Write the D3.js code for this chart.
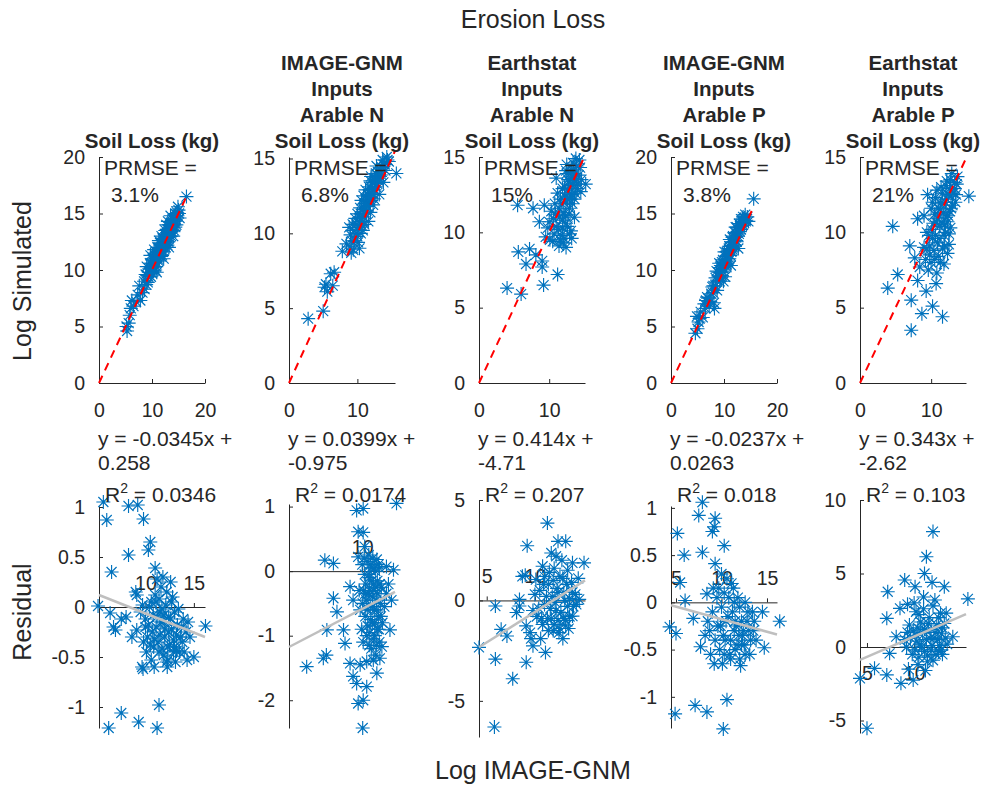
<!DOCTYPE html>
<html>
<head>
<meta charset="utf-8">
<script src="https://cdn.jsdelivr.net/npm/d3@7"></script>
<style>
  body { margin: 0; background: #fff; }
  text { font-family: "Liberation Sans", Arial, sans-serif; fill: #262626; }
</style>
</head>
<body>
<svg id="chart" width="985" height="785"></svg>
<script>
// ---- data ----
const panelTitles = [
    ["Soil Loss (kg)"],
    ["IMAGE-GNM", "Inputs", "Arable N", "Soil Loss (kg)"],
    ["Earthstat", "Inputs", "Arable N", "Soil Loss (kg)"],
    ["IMAGE-GNM", "Inputs", "Arable P", "Soil Loss (kg)"],
    ["Earthstat", "Inputs", "Arable P", "Soil Loss (kg)"]
];
const prmse = ["3.1%", "6.8%", "15%", "3.8%", "21%"];
const fitSlope = ["-0.0345", "0.0399", "0.414", "-0.0237", "0.343"];
const fitIntercept = ["0.258", "-0.975", "-4.71", "0.0263", "-2.62"];
const rSquared = ["0.0346", "0.0174", "0.207", "0.018", "0.103"];

const topXMax = [20, 15.5, 15.1, 20, 14.9];
const topYMax = [20, 15.1, 15, 20, 15];
const topXTicks = [[0, 10, 20], [0, 10], [0, 10], [0, 10, 20], [0, 10]];
const topYTicks = [[0, 5, 10, 15, 20], [0, 5, 10, 15], [0, 5, 10, 15], [0, 5, 10, 15, 20], [0, 5, 10, 15]];
const oneToOneMax = [16.5, 15.5, 14.9, 15.7, 14.9];

const resXDomain = [[5.2, 16.15], [-4.5, 16.5], [4.2, 15.2], [4.45, 16.1], [4.26, 15.5]];
const resYDomain = [[-1.21, 1.01], [-2.43, 1.04], [-6.8, 5], [-1.33, 1.02], [-5.85, 10]];
const resXTicks = [[10, 15], [10], [5, 10], [5, 10, 15], [5, 10]];
const resYTicks = [[-1, -0.5, 0, 0.5, 1], [-2, -1, 0, 1], [-5, 0, 5], [-1, -0.5, 0, 0.5, 1], [-5, 0, 5, 10]];
const resFitEnds = [
    [[5.2, 0.12], [16.15, -0.30]],
    [[-4.5, -1.175], [16.5, -0.32]],
    [[4.2, -2.33], [15.2, 1.0]],
    [[4.45, -0.03], [16.1, -0.34]],
    [[4.26, -0.88], [15.5, 2.24]]
];

const sim1 = [[5.3,4.6],[5.2,5.0],[5.6,5.3],[5.8,6.0],[6.0,6.6],[6.2,7.3],[6.5,6.8],[7.0,7.2],[7.3,7.8],[7.6,8.6],[7.8,7.3],[8.2,8.0],[8.5,9.0],[8.6,8.3],[8.8,9.6],[9.0,10.3],[9.2,8.9],[9.4,9.8],[9.6,10.6],[9.8,9.4],[10.0,10.2],[10.1,11.0],[10.3,9.9],[10.5,10.7],[10.6,11.5],[10.8,10.3],[11.0,11.2],[11.0,12.0],[11.2,10.8],[11.4,11.6],[11.5,12.4],[11.7,11.2],[11.9,12.0],[12.0,12.8],[12.1,11.6],[12.3,12.4],[12.4,13.2],[12.6,12.0],[12.8,12.8],[12.9,13.6],[13.1,12.5],[13.3,13.3],[13.4,14.0],[13.6,13.0],[13.8,13.8],[13.9,14.5],[14.1,13.5],[14.3,14.3],[14.4,15.0],[14.6,14.0],[14.8,14.8],[15.0,15.3],[15.2,14.6],[14.9,15.6],[16.5,16.5],[10.4,11.8],[11.8,13.0],[12.7,14.0],[13.5,14.8],[9.7,11.3],[10.9,9.8],[12.2,11.0],[13.2,12.0],[14.0,13.0],[11.3,12.6],[12.5,13.5],[13.0,14.3],[10.7,11.0],[11.6,11.9],[12.9,12.2],
    [9.3,9.4],[9.5,10.1],[9.9,10.6],[10.2,10.5],[10.4,10.2],[10.7,11.3],[10.9,11.6],[11.1,11.0],[11.3,11.9],[11.5,11.4],[11.7,12.3],[11.8,11.7],[12.0,12.3],[12.2,12.8],[12.4,12.2],[12.5,12.9],[12.7,13.1],[12.8,12.4],[13.0,13.0],[13.1,13.6],[13.3,12.9],[13.5,13.6],[13.6,14.2],[13.7,13.4],[13.9,13.9],[14.1,14.5],[14.2,14.0],[14.5,14.5],[14.7,15.1],[15.1,15.0],[10.6,10.0],[11.9,11.3],[13.4,13.6],[14.4,13.8],[8.9,8.7],[9.1,9.5],[10.0,9.7],[11.2,11.5],[12.6,12.6],[13.8,14.3]];
const sim2 = [[2.8,4.3],[5.0,4.8],[5.2,6.4],[5.6,6.1],[5.4,6.6],[6.1,7.3],[6.6,7.4],[6.4,6.5],[7.8,8.8],[8.4,9.3],[8.9,9.1],[9.4,8.9],[9.6,9.5],[10.1,9.4],[9.9,10.0],[9.0,9.9],[8.8,10.4],[9.3,10.6],[9.7,11.0],[10.2,10.4],[10.5,10.0],[10.0,11.3],[10.4,11.7],[10.8,11.1],[11.0,10.6],[10.6,12.2],[11.1,12.0],[11.3,11.5],[11.5,12.6],[11.8,12.1],[11.2,12.9],[11.7,13.1],[12.0,12.7],[12.2,13.4],[12.5,12.9],[12.0,13.8],[12.6,13.7],[12.9,13.3],[13.0,14.1],[13.3,13.8],[12.8,14.5],[13.5,14.4],[13.7,14.9],[14.0,14.6],[14.3,15.1],[14.6,14.8],[15.7,14.0],[10.3,9.0],[11.6,10.8],[12.3,11.9],[13.8,13.4],[9.1,8.7],[10.9,12.5],[11.9,13.5],[10.7,10.8],[12.4,12.3],[13.2,12.6],[11.4,12.3],[12.7,14.0],
    [9.2,9.5],[9.5,10.2],[9.8,10.6],[10.0,9.8],[10.3,10.8],[10.5,11.3],[10.7,10.5],[10.9,11.6],[11.1,11.3],[11.3,12.1],[11.5,11.8],[11.7,12.5],[11.9,12.2],[12.1,13.0],[12.3,12.6],[12.5,13.4],[12.7,13.1],[12.9,13.9],[13.1,13.5],[13.3,14.3],[13.5,13.9],[13.8,14.6],[14.1,14.2],[14.4,14.9],[10.4,11.0],[11.2,11.9],[12.0,12.4],[12.8,13.6],[13.6,14.4],[10.8,10.2],[11.9,11.4]];
const sim3 = [[4.0,6.3],[6.0,5.9],[9.2,6.5],[11.2,7.2],[5.6,8.7],[6.7,7.9],[7.2,8.9],[8.1,8.5],[9.0,8.1],[9.0,7.7],[5.5,11.8],[7.7,11.6],[9.3,11.8],[10.0,10.7],[9.5,9.7],[10.5,9.4],[11.4,9.1],[12.4,9.0],[13.1,10.1],[13.2,9.6],[11.4,11.6],[12.4,12.0],[11.9,12.9],[12.8,13.4],[13.5,14.2],[13.8,14.9],[15.2,13.2],[14.5,12.7],[11.0,13.6],[12.4,14.1],[13.2,12.5],[11.9,10.8],[11.0,10.4],[10.3,11.4],[8.6,10.7],[12.9,11.6],[13.6,12.2],[14.2,13.8],[12.6,10.4],[11.7,9.8],[12.0,11.3],[12.7,12.8],[13.3,13.1],[13.0,13.9],[13.9,13.5],[12.2,12.4],[11.6,12.2],[10.8,11.9],[10.6,10.9],[11.3,10.2],[12.1,9.6],[13.6,11.0],[14.0,12.9],[13.4,14.6],[12.5,13.9],[14.4,14.3],[10.1,9.5],[9.8,10.3],
    [11.8,11.9],[12.3,11.1],[12.6,12.2],[12.9,12.6],[13.1,13.2],[13.4,13.6],[13.7,13.9],[13.9,14.4],[13.2,14.0],[12.7,13.5],[12.2,13.0],[11.5,11.0],[11.9,10.3],[12.4,10.6],[12.8,11.2],[13.3,11.9],[13.7,12.6],[14.1,13.2],[11.2,12.6],[10.9,11.2],[12.0,9.3],[12.9,9.9],[11.6,9.5],[10.7,9.9],[13.5,13.3],[14.3,14.8],[14.6,13.5],[12.5,14.5],[13.0,12.2]];
const sim4 = [[4.6,4.4],[4.9,5.9],[5.2,5.4],[5.0,4.8],[5.6,6.3],[6.0,5.8],[6.3,7.0],[6.8,7.6],[7.2,6.8],[7.6,7.9],[8.1,7.1],[8.2,6.6],[8.0,8.6],[8.4,9.3],[8.7,8.2],[8.9,9.8],[9.2,9.0],[9.4,10.4],[9.6,9.5],[9.8,10.9],[10.0,10.1],[10.2,9.4],[10.3,11.2],[10.5,10.5],[10.7,11.7],[10.9,10.8],[11.0,12.1],[11.2,11.3],[11.4,12.5],[11.6,11.8],[11.7,13.0],[11.9,12.2],[12.1,13.3],[12.3,12.6],[12.4,13.8],[12.6,13.0],[12.8,14.1],[13.0,13.4],[13.2,14.5],[13.4,13.9],[13.6,14.7],[13.8,14.2],[14.0,14.9],[14.2,14.4],[14.4,14.7],[14.6,14.3],[15.6,16.3],[9.1,10.6],[10.1,11.6],[11.1,12.7],[12.2,13.8],[9.9,9.0],[11.3,10.4],[12.7,11.9],[8.6,9.9],[7.8,8.5],[7.4,7.2],[6.6,7.3],
    [9.0,9.4],[9.3,9.8],[9.5,10.2],[9.7,9.9],[10.0,10.6],[10.2,10.9],[10.4,10.3],[10.6,11.0],[10.8,11.4],[11.0,11.0],[11.2,11.8],[11.4,11.6],[11.5,12.1],[11.8,12.5],[12.0,12.1],[12.2,12.9],[12.4,12.5],[12.6,13.4],[12.8,13.2],[13.0,13.9],[13.2,13.6],[13.4,14.3],[13.6,14.0],[13.9,14.6],[14.1,14.3],[8.4,8.6],[8.7,9.1],[7.9,8.0],[7.0,7.5],[6.5,6.6],[5.4,5.7],[10.9,11.9],[12.3,13.3],[13.5,14.5],[9.6,10.7],[11.6,12.9],[10.5,11.6]];
const sim5 = [[4.6,10.4],[3.9,6.3],[5.3,7.2],[7.0,9.1],[7.2,5.5],[7.2,3.5],[8.7,4.6],[10.2,5.1],[11.6,4.4],[15.3,12.4],[9.3,6.1],[10.7,6.6],[8.1,6.8],[8.4,7.7],[7.7,8.3],[12.5,9.2],[11.8,7.9],[9.5,12.5],[13.7,13.7],[8.1,10.9],[10.7,10.7],[9.0,9.0],[9.4,10.0],[9.8,8.5],[10.2,9.6],[10.5,11.2],[10.9,9.3],[11.2,10.4],[11.5,12.0],[11.8,9.8],[12.1,11.0],[12.4,12.5],[12.7,10.3],[13.0,11.8],[13.3,12.9],[13.6,13.2],[10.0,11.6],[10.6,12.3],[11.4,13.0],[12.2,13.4],[12.9,13.9],[9.2,8.2],[10.4,8.8],[11.0,8.4],[11.6,8.9],[12.3,8.6],[9.6,7.5],[10.8,7.3],[11.3,11.5],[12.0,12.0],[12.8,12.4],[13.4,12.0],[10.1,10.2],[9.0,11.1],[11.9,10.5],[12.6,11.4],
    [9.8,9.1],[10.3,10.6],[10.6,9.8],[10.9,10.9],[11.1,9.6],[11.3,11.9],[11.5,10.6],[11.7,11.3],[12.0,10.0],[12.2,12.2],[12.4,11.1],[12.6,12.9],[12.8,11.6],[13.1,12.6],[13.3,13.3],[13.5,12.5],[10.2,12.0],[10.8,12.8],[11.6,12.6],[12.1,13.1],[12.7,13.5],[9.7,9.8],[10.5,8.2],[11.3,8.0],[11.9,9.1],[12.5,9.9],[9.4,8.9],[10.0,8.0],[11.0,11.6],[12.3,10.7]];

const res1 = [[5.65,1.05],[6.0,0.87],[8.25,1.01],[9.2,1.02],[9.8,0.88],[10.5,0.65],[10.3,0.57],[8.25,0.52],[6.5,0.35],[11.0,0.39],[11.2,0.28],[9.0,0.15],[9.1,0.12],[5.1,0.01],[6.35,-0.06],[6.7,-0.2],[6.9,-0.23],[7.5,-0.12],[9.1,-0.23],[9.65,-0.6],[9.75,-0.62],[12.25,-0.6],[15.0,-0.5],[16.2,-0.19],[14.4,-0.15],[6.2,-1.21],[7.5,-1.06],[9.3,-1.15],[11.2,-1.21],[11.4,-0.98],[10.85,-0.4],[10.6,-0.53],[12.3,-0.53],[13.2,-0.44],[14.3,-0.53],[9.5,-0.05],[10.0,-0.12],[10.4,0.0],[10.8,-0.08],[11.1,-0.2],[11.5,-0.05],[11.8,-0.15],[12.1,0.02],[12.4,-0.1],[12.7,-0.22],[13.0,-0.05],[13.3,-0.18],[13.6,-0.3],[13.9,-0.12],[14.2,-0.25],[10.2,-0.3],[10.7,-0.25],[11.3,-0.35],[11.7,-0.42],[12.0,-0.3],[12.5,-0.38],[12.9,-0.33],[13.5,-0.45],[11.0,0.12],[11.6,0.2],[12.2,0.15],[12.8,0.1],[11.4,0.08],[9.8,-0.35],[10.1,-0.45],[11.9,-0.48],[13.8,-0.35],[14.6,-0.3],[12.6,0.25],[11.8,0.3],[8.6,-0.3],[8.0,-0.1],[10.9,-0.6],[13.1,-0.55],
    [10.3,-0.18],[10.6,0.05],[10.9,-0.32],[11.2,-0.1],[11.5,-0.28],[11.7,-0.02],[12.0,-0.22],[12.3,-0.4],[12.6,-0.12],[12.9,-0.45],[13.2,-0.28],[13.4,-0.02],[13.7,-0.2],[14.0,-0.45],[11.1,0.05],[11.9,-0.08],[12.7,0.05],[10.5,-0.38],[11.4,-0.45],[12.2,-0.55],[13.0,-0.4],[11.6,-0.15],[12.4,-0.25],[10.0,-0.2],[9.7,0.02]];
const res2 = [[16.8,1.05],[8.9,0.94],[10.2,0.97],[9.2,0.61],[10.2,0.6],[10.5,0.38],[9.2,0.22],[2.6,0.17],[4.3,0.12],[-1.0,-1.48],[2.3,-1.35],[2.9,-1.3],[3.0,-0.91],[4.3,-0.42],[5.0,-0.63],[6.3,-0.91],[6.6,-1.12],[7.6,-0.24],[8.2,-0.45],[7.6,-1.43],[8.2,-1.63],[8.9,-1.74],[9.6,-1.45],[10.9,-1.79],[9.2,-2.05],[10.2,-2.0],[10.1,-2.43],[12.2,-1.38],[12.9,-1.58],[13.9,-1.17],[15.5,-0.91],[15.8,-0.45],[16.2,0.02],[14.8,0.07],[10.0,0.1],[10.5,-0.05],[11.0,0.15],[11.4,-0.1],[11.8,0.05],[12.2,-0.2],[12.6,0.0],[13.0,-0.15],[13.4,0.05],[13.8,-0.25],[10.3,-0.3],[10.8,-0.45],[11.2,-0.35],[11.6,-0.55],[12.0,-0.4],[12.4,-0.6],[12.8,-0.45],[13.2,-0.7],[13.6,-0.5],[14.0,-0.8],[14.4,-0.55],[10.6,-0.7],[11.1,-0.85],[11.5,-0.95],[12.0,-0.8],[12.5,-1.0],[13.0,-0.9],[13.4,-1.1],[11.8,-1.2],[12.7,-1.3],[9.6,-0.6],[9.9,-0.9],[10.2,-1.1],[14.8,-0.35],[15.2,-0.2],[11.3,0.25],[12.1,0.2],[12.9,0.18],[9.4,-0.3],[10.9,-1.4],[13.5,-1.35],
    [10.4,0.2],[10.7,-0.2],[11.0,-0.6],[11.3,-0.05],[11.5,-0.3],[11.7,-0.75],[11.9,-0.15],[12.1,-0.55],[12.3,-0.3],[12.5,-0.8],[12.7,-0.25],[12.9,-0.6],[13.1,-0.35],[13.3,-0.9],[13.5,-0.2],[13.7,-0.7],[10.1,-0.5],[10.9,-1.0],[11.4,-1.15],[12.2,-1.05],[12.8,-1.15],[11.6,0.1],[12.4,0.05],[13.2,0.1],[10.6,-0.35]];
const res3 = [[11.3,3.85],[9.2,2.72],[12.4,2.94],[13.2,2.94],[11.7,2.36],[15.1,1.87],[13.9,1.87],[8.7,1.2],[9.0,1.25],[10.1,1.04],[10.8,1.7],[5.9,-0.28],[4.2,-2.34],[6.5,-1.44],[7.1,-1.77],[5.9,-2.92],[7.7,-3.9],[9.1,-3.08],[9.8,-2.26],[11.1,-2.59],[5.8,-6.3],[8.4,-0.28],[8.1,-0.6],[9.1,-1.27],[9.5,-1.6],[8.4,0.05],[12.5,-1.6],[13.2,-1.27],[13.9,-0.78],[14.6,0.05],[10.5,0.5],[11.0,-0.2],[11.4,0.8],[11.8,0.2],[12.2,-0.5],[12.6,1.2],[13.0,0.4],[13.4,-0.3],[13.8,0.9],[14.2,0.3],[10.2,-0.8],[10.8,-1.2],[11.3,-0.9],[11.9,-1.5],[12.4,-1.0],[12.9,-1.9],[13.5,-1.4],[12.0,1.6],[11.5,1.4],[12.8,2.0],[10.0,0.3],[9.8,-0.5],[14.5,1.1],[13.6,0.1],[11.6,-0.4],[12.3,0.6],[10.6,-1.9],[9.6,-1.9],[14.0,-0.3],[13.0,-0.9],
    [10.4,-0.4],[10.9,0.8],[11.2,0.2],[11.7,-0.9],[11.9,1.0],[12.1,-0.1],[12.4,0.4],[12.7,-0.6],[12.9,1.1],[13.1,0.0],[13.3,0.8],[13.6,-0.8],[13.9,0.4],[14.3,-0.2],[11.0,1.2],[12.0,-1.2],[12.6,-1.4],[13.2,-1.0],[11.4,-1.5],[12.2,2.2],[13.4,1.5],[10.7,-0.9]];
const res4 = [[7.9,1.06],[7.5,0.92],[9.3,0.89],[9.2,0.8],[9.0,0.75],[5.15,0.73],[5.9,0.5],[7.9,0.53],[10.3,0.6],[9.3,0.41],[5.45,0.21],[6.0,0.02],[8.4,0.09],[4.3,-0.26],[5.0,-0.33],[6.9,-0.17],[7.7,-0.47],[9.2,-0.65],[12.1,-0.67],[14.5,-0.1],[16.4,-0.2],[14.7,-0.48],[4.9,-1.18],[7.1,-1.09],[8.4,-1.16],[10.6,-1.03],[10.2,-1.34],[8.5,-0.2],[9.0,-0.1],[9.5,0.05],[9.9,-0.25],[10.3,0.1],[10.7,-0.15],[11.1,0.2],[11.4,-0.3],[11.8,0.05],[12.2,-0.2],[12.6,0.0],[13.0,-0.3],[13.4,-0.1],[13.8,-0.4],[9.3,-0.4],[9.8,-0.5],[10.4,-0.4],[10.9,-0.55],[11.5,-0.5],[12.0,-0.6],[12.5,-0.45],[13.1,-0.55],[10.0,0.3],[10.6,0.25],[11.3,0.15],[8.8,-0.55],[11.6,-0.25],[12.8,-0.2],[10.1,-0.65],[11.9,-0.35],[8.2,-0.35],[13.5,-0.3],
    [8.7,-0.3],[9.1,0.15],[9.6,-0.25],[10.0,-0.05],[10.2,-0.35],[10.5,-0.2],[10.8,0.05],[11.0,-0.4],[11.2,-0.1],[11.5,-0.2],[11.7,-0.45],[12.0,-0.05],[12.3,-0.35],[12.6,-0.55],[12.9,-0.1],[13.2,-0.4],[13.6,-0.2],[10.3,-0.55],[11.4,0.0],[12.4,-0.3],[9.7,0.15],[11.0,-0.6],[12.2,-0.45]];
const res5 = [[12.0,7.85],[11.3,6.14],[11.1,5.0],[9.0,4.56],[10.1,4.1],[11.9,4.4],[13.2,4.1],[7.2,3.76],[15.7,3.27],[7.1,1.95],[8.5,2.63],[9.3,2.9],[8.1,0.7],[7.4,-0.43],[4.26,-2.13],[5.8,-1.45],[7.1,-1.9],[8.6,-2.47],[9.9,-2.25],[5.0,-5.53],[14.1,0.7],[13.4,2.3],[9.0,0.5],[9.5,1.5],[9.8,-0.5],[10.2,0.8],[10.5,2.2],[10.8,0.0],[11.1,1.2],[11.4,-0.6],[11.7,0.6],[12.0,2.8],[12.3,1.0],[12.6,-0.3],[12.9,0.9],[13.2,1.6],[13.5,0.2],[10.0,3.0],[11.0,3.4],[12.2,3.2],[10.4,-1.2],[11.2,-1.6],[12.0,-0.9],[9.4,-1.5],[10.7,1.7],[11.6,2.0],[12.8,2.3],[13.0,-0.5],[9.2,0.0],[11.9,0.1],[10.3,0.4],[12.5,0.5],
    [9.6,0.6],[9.9,1.1],[10.1,-0.2],[10.4,1.3],[10.6,0.2],[10.9,1.0],[11.1,-0.3],[11.3,0.5],[11.5,1.6],[11.8,-0.2],[12.1,0.6],[12.4,1.5],[12.7,0.1],[13.0,1.3],[13.3,0.6],[10.2,2.4],[11.0,2.6],[11.8,1.2],[12.6,2.0],[10.5,-0.7],[11.4,-1.0],[12.3,-0.5],[9.3,1.0],[12.9,-0.2]];

const simPoints = [sim1, sim2, sim3, sim4, sim5];
const resPoints = [res1, res2, res3, res4, res5];

// ---- layout ----
const panelLeft = [99, 289, 479, 671, 860];
const panelWidth = 106;
const topBox = [157, 383];
const resTop = [506, 504, 500, 506, 500];
const resBottom = [728, 728, 737, 728, 733];
const resLabelsAbove = [true, true, true, true, false];

const blue = "#0072BD", ink = "#262626";
// MATLAB '*' marker: a plus and an x on top of each other
const star = "M-7,0H7M0,-7V7M-5,-5L5,5M-5,5L5,-5";
const plain = d => String(d);

const svg = d3.select("#chart");

function styleAxis(g, size) {
    g.attr("font-family", null).attr("font-size", null);
    g.select(".domain").attr("stroke", ink).attr("stroke-width", 1);
    g.selectAll(".tick line").attr("stroke", ink);
    g.selectAll(".tick text").style("font-size", size + "px").attr("fill", ink);
}

function drawStars(g, pts, x, y) {
    g.append("g").selectAll("path")
        .data(pts)
        .enter()
        .append("path")
        .attr("d", star)
        .attr("transform", d => `translate(${x(d[0])},${y(d[1])})`)
        .attr("fill", "none")
        .attr("stroke", blue)
        .attr("stroke-width", 1.15);
}

panelTitles.forEach((title, i) => {
    let left = panelLeft[i], right = left + panelWidth, mid = left + panelWidth / 2;

    // top row: simulated vs IMAGE-GNM
    let x = d3.scaleLinear().domain([0, topXMax[i]]).range([left, right]);
    let y = d3.scaleLinear().domain([0, topYMax[i]]).range([topBox[1], topBox[0]]);
    let top = svg.append("g");

    top.append("g")
        .attr("transform", `translate(0,${topBox[1]})`)
        .call(d3.axisBottom(x).tickValues(topXTicks[i]).tickFormat(plain).tickSizeInner(-4).tickSizeOuter(0).tickPadding(20))
        .call(g => styleAxis(g, 19.5));
    top.append("g")
        .attr("transform", `translate(${left},0)`)
        .call(d3.axisLeft(y).tickValues(topYTicks[i]).tickFormat(plain).tickSizeInner(-4).tickSizeOuter(0).tickPadding(14))
        .call(g => styleAxis(g, 19.5));

    drawStars(top, simPoints[i], x, y);

    top.append("line")
        .attr("x1", x(0)).attr("y1", y(0))
        .attr("x2", x(oneToOneMax[i])).attr("y2", y(oneToOneMax[i]))
        .attr("stroke", "#FF0000").attr("stroke-width", 2)
        .attr("stroke-dasharray", "8,6");

    top.append("text").attr("x", left + 5).attr("y", 175).style("font-size", "21px").text("PRMSE =");
    top.append("text").attr("x", left + 12).attr("y", 202).style("font-size", "21px").text(prmse[i]);

    title.slice().reverse().forEach((line, k) => {
        top.append("text")
            .attr("x", mid).attr("y", 148 - k * 26)
            .attr("text-anchor", "middle")
            .style("font-size", "20.5px").style("font-weight", "bold")
            .text(line);
    });

    // bottom row: residuals
    let rx = d3.scaleLinear().domain(resXDomain[i]).range([left, right]);
    let ry = d3.scaleLinear().domain(resYDomain[i]).range([resBottom[i], resTop[i]]);
    let bot = svg.append("g");

    let xAxis = resLabelsAbove[i]
        ? d3.axisTop(rx).tickSizeInner(4).tickPadding(13)
        : d3.axisBottom(rx).tickSizeInner(-4).tickPadding(19);
    bot.append("g")
        .attr("transform", `translate(0,${ry(0)})`)
        .call(xAxis.tickValues(resXTicks[i]).tickFormat(plain).tickSizeOuter(0))
        .call(g => styleAxis(g, 19.5));
    bot.append("g")
        .attr("transform", `translate(${left},0)`)
        .call(d3.axisLeft(ry).tickValues(resYTicks[i]).tickFormat(plain).tickSizeInner(-4).tickSizeOuter(0).tickPadding(14))
        .call(g => styleAxis(g, 19.5));

    drawStars(bot, resPoints[i], rx, ry);

    bot.append("line")
        .attr("x1", rx(resFitEnds[i][0][0])).attr("y1", ry(resFitEnds[i][0][1]))
        .attr("x2", rx(resFitEnds[i][1][0])).attr("y2", ry(resFitEnds[i][1][1]))
        .attr("stroke", "#BFBFBF").attr("stroke-width", 2.5);

    // fit equation text between the rows
    let eq = svg.append("g").style("font-size", "21px");
    eq.append("text").attr("x", left - 1).attr("y", 446).text(`y = ${fitSlope[i]}x +`);
    eq.append("text").attr("x", left - 1).attr("y", 470).text(fitIntercept[i]);
    let r2 = eq.append("text").attr("x", left + 6).attr("y", 502);
    r2.append("tspan").text("R");
    r2.append("tspan").attr("dy", -9).style("font-size", "14px").text("2");
    r2.append("tspan").attr("dy", 9).text(` = ${rSquared[i]}`);
});

// shared labels
svg.append("text").attr("x", 533).attr("y", 28).attr("text-anchor", "middle")
    .style("font-size", "25px").text("Erosion Loss");
svg.append("text").attr("x", 533).attr("y", 779).attr("text-anchor", "middle")
    .style("font-size", "25px").text("Log IMAGE-GNM");
svg.append("text").attr("transform", "translate(31,281) rotate(-90)").attr("text-anchor", "middle")
    .style("font-size", "25px").text("Log Simulated");
svg.append("text").attr("transform", "translate(31,612) rotate(-90)").attr("text-anchor", "middle")
    .style("font-size", "25px").text("Residual");
</script>
</body>
</html>
